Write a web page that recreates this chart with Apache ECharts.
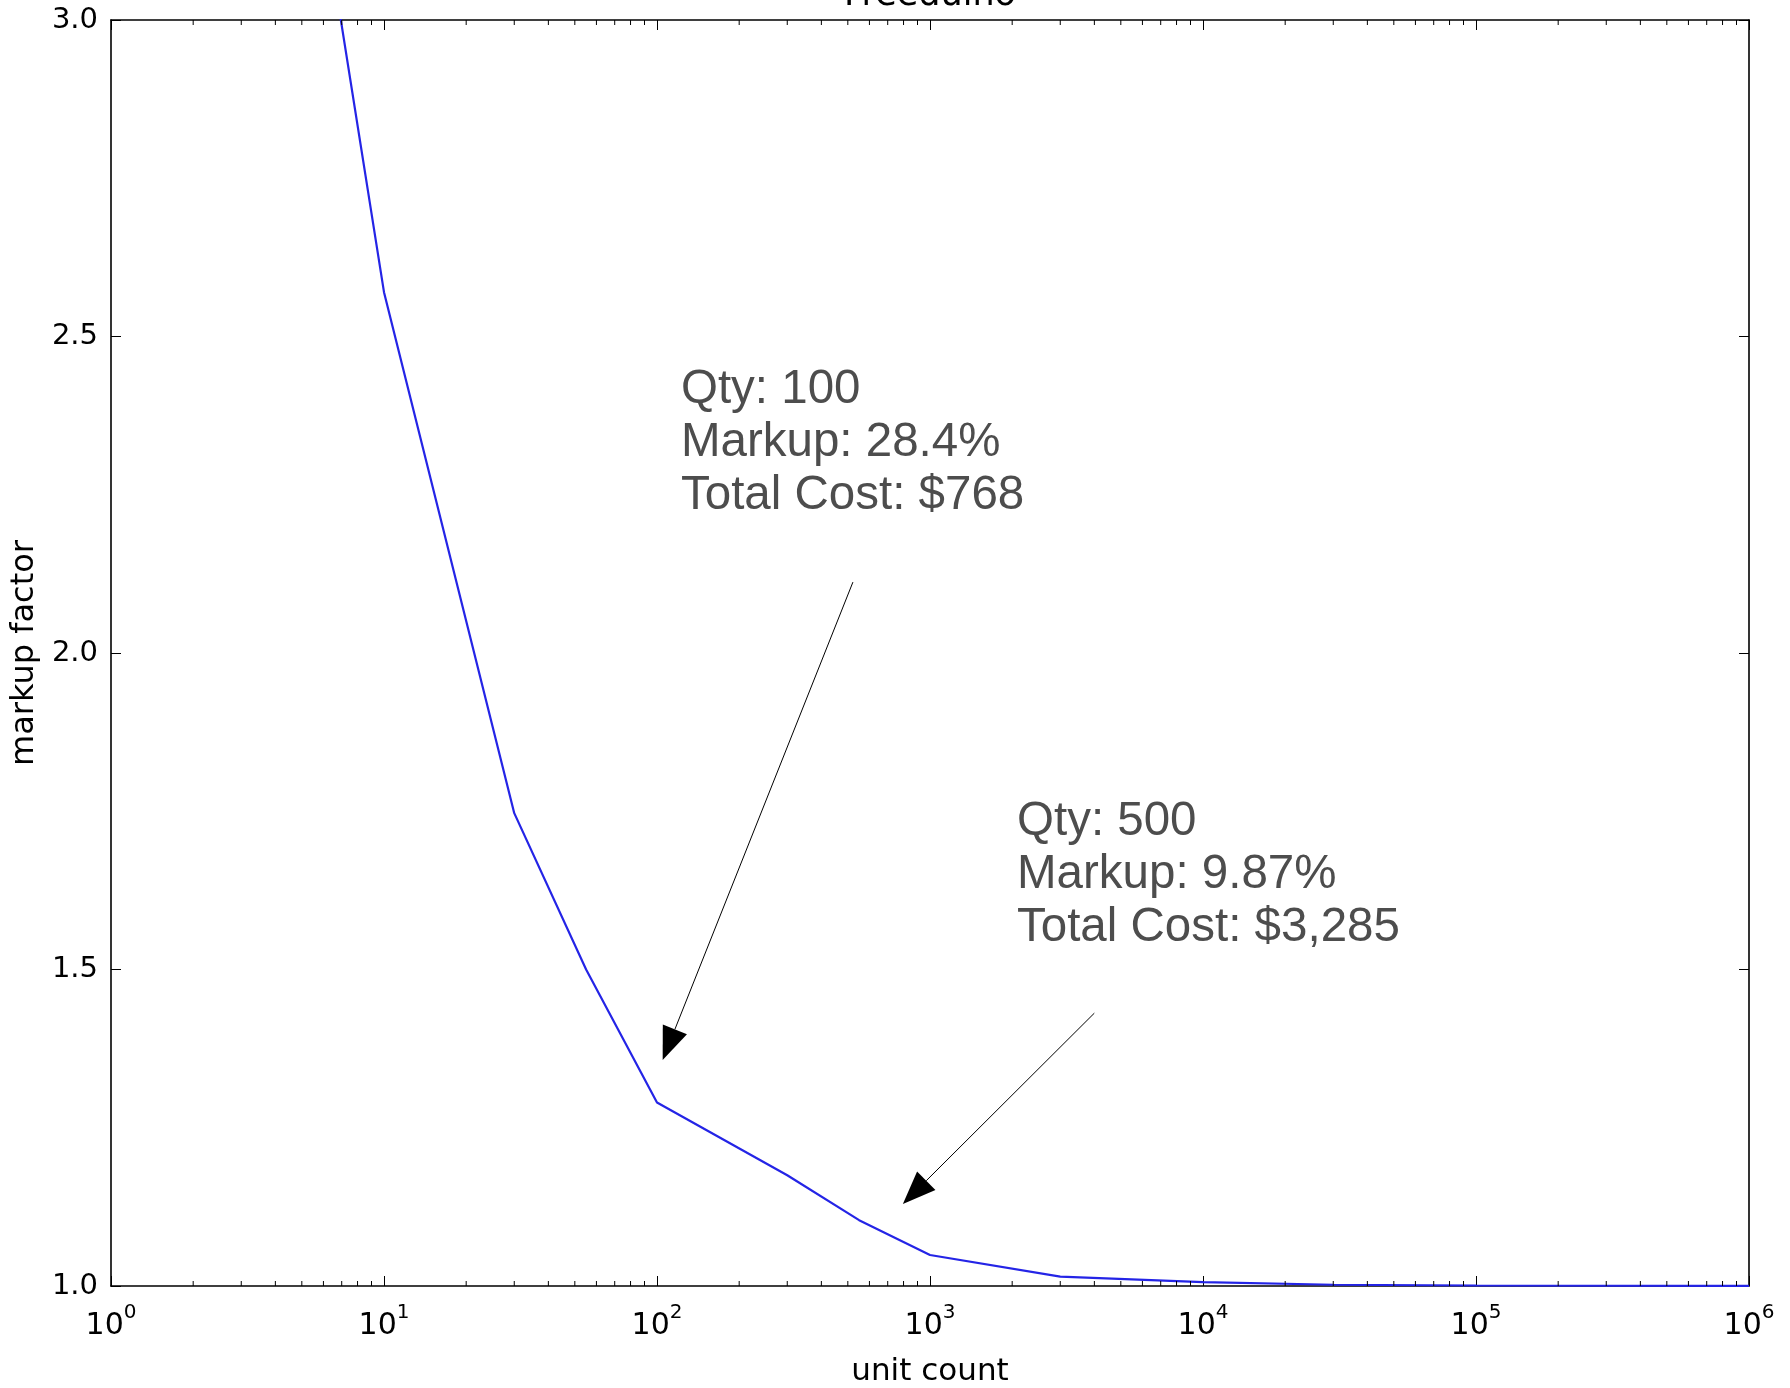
<!DOCTYPE html>
<html>
<head>
<meta charset="utf-8">
<script src="https://cdn.jsdelivr.net/npm/echarts@6/dist/echarts.min.js"></script>
<style>
html,body{margin:0;padding:0;background:#fff;}
#chart{width:1790px;height:1388px;}
</style>
</head>
<body>
<div id="chart"></div>
<script>
// ---- data ----
const qty    = [1, 10, 30, 55, 100, 300, 550, 1000, 3000, 10000, 30000, 100000, 1000000];
const markup = [5.29, 2.57, 1.747, 1.5, 1.29, 1.175, 1.104, 1.049, 1.0147, 1.006, 1.002, 1.0008, 1.0001];

const yTicks = [1.0, 1.5, 2.0, 2.5, 3.0];
const decades = [1, 10, 100, 1000, 10000, 100000];
const minorMult = [2, 3, 4, 5, 6, 7, 8, 9];

// annotations (data coordinates)
const arrowTail = [[522, 2.112], [3998, 1.431]];
const arrowTip  = [[104.9, 1.357], [795.6, 1.1295]];
const textAnchor = [[122.4, 2.390], [2083, 1.7073]];
const annoLines = [
  ['Qty: 100', 'Markup: 28.4%', 'Total Cost: $768'],
  ['Qty: 500', 'Markup: 9.87%', 'Total Cost: $3,285']
];

const chart = echarts.init(document.getElementById('chart'), null, {renderer: 'canvas'});

const FONT = "'DejaVu Sans', sans-serif";
const minorTicks = [];
decades.forEach(d => minorMult.forEach(m => minorTicks.push([d * m, 1])));

const lineData = qty.map((q, i) => [q, markup[i]]);

const axisLineStyle = {color: '#000', width: 1.6};

const option = {
  animation: false,
  backgroundColor: '#fff',
  grid: {left: 111, right: 41, top: 20, bottom: 102, containLabel: false, outerBoundsMode: 'none'},
  graphic: [{
    type: 'text', x: 930, y: 13, z: 10,
    style: {text: 'Freeduino', fontSize: 35, fontFamily: FONT, fill: '#000', align: 'center', verticalAlign: 'bottom'}
  }],
  xAxis: [{
    type: 'log', logBase: 10, min: 1, max: 1000000, position: 'bottom',
    name: 'unit count', nameLocation: 'middle', nameGap: 70,
    nameTextStyle: {fontSize: 31, fontFamily: FONT, color: '#000'},
    axisLine: {show: true, lineStyle: axisLineStyle},
    axisTick: {show: true, inside: true, length: 10, lineStyle: {color: '#000', width: 1}},
    minorTick: {show: false},
    splitLine: {show: false},
    axisLabel: {
      show: true, margin: 17, showMinLabel: true, showMaxLabel: true,
      formatter: v => '{b|10}{s|' + Math.round(Math.log10(v)) + '}',
      rich: {
        b: {fontSize: 30, fontFamily: FONT, color: '#000', lineHeight: 46},
        s: {fontSize: 20, fontFamily: FONT, color: '#000', lineHeight: 10, verticalAlign: 'top'}
      }
    }
  }, {
    type: 'log', logBase: 10, min: 1, max: 1000000, position: 'top',
    axisLine: {show: true, lineStyle: axisLineStyle},
    axisTick: {show: true, inside: true, length: 10, lineStyle: {color: '#000', width: 1}},
    axisLabel: {show: false},
    splitLine: {show: false}
  }],
  yAxis: [{
    type: 'value', min: 1, max: 3, interval: 0.5, position: 'left',
    name: 'markup factor', nameLocation: 'middle', nameGap: 64,
    nameTextStyle: {fontSize: 32, fontFamily: FONT, color: '#000'},
    axisLine: {show: true, lineStyle: axisLineStyle},
    axisTick: {show: true, inside: true, length: 10, lineStyle: {color: '#000', width: 1}},
    splitLine: {show: false},
    axisLabel: {
      show: true, margin: 13, fontSize: 29, fontFamily: FONT, color: '#000',
      formatter: v => v.toFixed(1)
    }
  }, {
    type: 'value', min: 1, max: 3, interval: 0.5, position: 'right',
    axisLine: {show: true, lineStyle: axisLineStyle},
    axisTick: {show: true, inside: true, length: 10, lineStyle: {color: '#000', width: 1}},
    axisLabel: {show: false},
    splitLine: {show: false}
  }],
  series: [{
    type: 'line', name: 'markup', xAxisIndex: 0, yAxisIndex: 0,
    data: lineData, showSymbol: false, symbol: 'none', clip: true, z: 3,
    lineStyle: {color: '#2424e6', width: 2.2}
  }, {
    type: 'custom', name: 'minorTicks', xAxisIndex: 0, yAxisIndex: 0, silent: true, clip: false, z: 4,
    data: minorTicks,
    renderItem: function (params, api) {
      const v = api.value(0);
      const b = api.coord([v, 1]);
      const t = api.coord([v, 3]);
      return {type: 'group', children: [
        {type: 'line', shape: {x1: b[0], y1: b[1], x2: b[0], y2: b[1] - 5}, style: {stroke: '#000', lineWidth: 1}},
        {type: 'line', shape: {x1: t[0], y1: t[1], x2: t[0], y2: t[1] + 5}, style: {stroke: '#000', lineWidth: 1}}
      ]};
    }
  }, {
    type: 'custom', name: 'arrows', xAxisIndex: 0, yAxisIndex: 0, silent: true, clip: false, z: 5,
    encode: {x: [0, 2], y: [1, 3]},
    data: arrowTail.map((t, i) => [t[0], t[1], arrowTip[i][0], arrowTip[i][1]]),
    renderItem: function (params, api) {
      const a = api.coord([api.value(0), api.value(1)]);
      const b = api.coord([api.value(2), api.value(3)]);
      const dx = b[0] - a[0], dy = b[1] - a[1];
      const len = Math.sqrt(dx * dx + dy * dy);
      const ux = dx / len, uy = dy / len;
      const hl = 33, hw = 13;
      const bx = b[0] - ux * hl, by = b[1] - uy * hl;
      return {type: 'group', children: [
        {type: 'line', shape: {x1: a[0], y1: a[1], x2: bx, y2: by}, style: {stroke: '#000', lineWidth: 1}},
        {type: 'polygon', shape: {points: [[b[0], b[1]], [bx - uy * hw, by + ux * hw], [bx + uy * hw, by - ux * hw]]}, style: {fill: '#000'}}
      ]};
    }
  }, {
    type: 'custom', name: 'annotations', xAxisIndex: 0, yAxisIndex: 0, silent: true, clip: false, z: 6,
    data: textAnchor,
    renderItem: function (params, api) {
      const p = api.coord([api.value(0), api.value(1)]);
      const F = 47.5, L = 53;
      return {
        type: 'text', x: p[0], y: p[1] - (L / 2 + 0.3465 * F),
        style: {
          text: annoLines[params.dataIndex].join('\n'),
          fontSize: F, fontFamily: "'Liberation Sans', Arial, sans-serif",
          fill: '#4d4d4d', lineHeight: L, align: 'left', verticalAlign: 'top'
        }
      };
    }
  }]
};

chart.setOption(option);
</script>
</body>
</html>
